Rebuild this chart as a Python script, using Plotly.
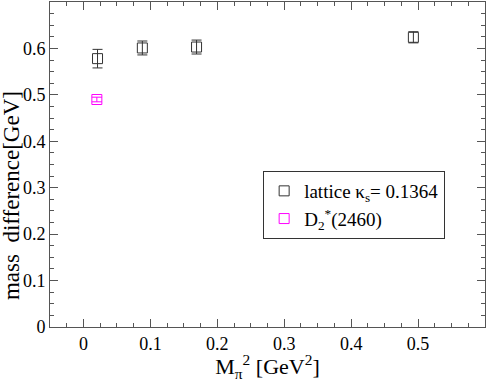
import plotly.graph_objects as go

# lattice data
mpi2 = [0.021, 0.088, 0.169, 0.493]
dm = [0.578, 0.601, 0.603, 0.624]
dm_err = [0.020, 0.015, 0.015, 0.012]

# experiment
exp_x = [0.02]
exp_y = [0.490]
exp_err = [0.005]

serif = 'Liberation Serif, Times New Roman, serif'

fig = go.Figure()
fig.add_trace(go.Scatter(
	x=mpi2, y=dm, mode='markers',
	name='lattice κ<sub>s</sub>= 0.1364',
	marker=dict(symbol='square-open', size=10, color='#333333', line=dict(width=1)),
	error_y=dict(type='data', array=dm_err, color='#333333', thickness=1, width=5)))
fig.add_trace(go.Scatter(
	x=exp_x, y=exp_y, mode='markers',
	name='D<sub>2</sub><sup>*</sup>(2460)',
	marker=dict(symbol='square-open', size=10, color='#ff00ff', line=dict(width=1)),
	error_y=dict(type='data', array=exp_err, color='#ff00ff', thickness=1, width=5)))

axis_common = dict(
	showline=True, linecolor='#555555', linewidth=1, mirror='allticks',
	ticks='inside', ticklen=8, tickcolor='#555555',
	showgrid=False, zeroline=False, automargin=False,
	tickfont=dict(family=serif, size=18, color='black'),
)

fig.update_layout(
	width=486, height=382,
	margin=dict(l=50, r=1, t=2, b=55),
	plot_bgcolor='white', paper_bgcolor='white',
	font=dict(family=serif, size=18, color='black'),
	xaxis=dict(range=[-0.05, 0.6], dtick=0.1,
		minor=dict(dtick=0.025, ticks='inside', ticklen=4, tickcolor='#555555'),
		title=dict(text='M<sub>π</sub><sup>2</sup> [GeV<sup>2</sup>]', font=dict(family=serif, size=22), standoff=4),
		**axis_common),
	yaxis=dict(range=[0, 0.7], dtick=0.1,
		minor=dict(dtick=0.025, ticks='inside', ticklen=4, tickcolor='#555555'),
		**axis_common),
	showlegend=True,
	legend=dict(x=0.49, y=0.48, xanchor='left', yanchor='top',
		bordercolor='#333333', borderwidth=1, bgcolor='white',
		font=dict(family=serif, size=19), tracegroupgap=2, itemwidth=30),
)

# y title sits a little below the axis centre in the original
fig.add_annotation(
	text='mass  difference[GeV]', textangle=-90,
	xref='paper', yref='paper', x=-0.088, y=0.405,
	xanchor='center', yanchor='middle', showarrow=False,
	font=dict(family=serif, size=23, color='black'))

# page has a default body margin; drop it so the figure sits at 0,0
fig.write_html("out.html", config={'displayModeBar': False},
	post_script="document.body.style.margin='0';")
